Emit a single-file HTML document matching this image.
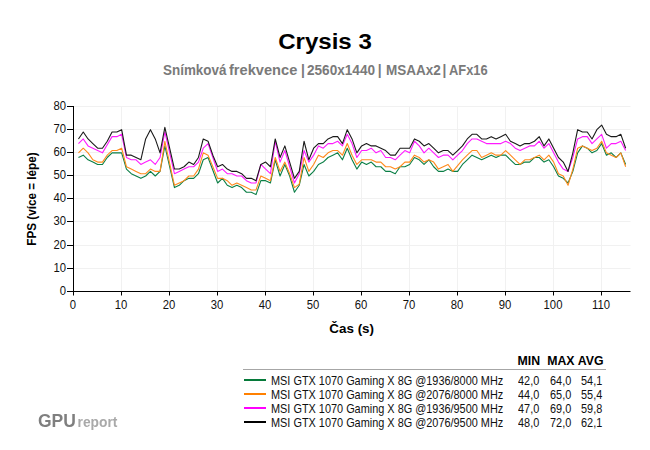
<!DOCTYPE html>
<html><head><meta charset="utf-8"><title>Crysis 3</title>
<style>
html,body{margin:0;padding:0;background:#fff;}
body{width:650px;height:450px;position:relative;overflow:hidden;font-family:"Liberation Sans",sans-serif;color:#000;}
.t{position:absolute;white-space:nowrap;line-height:1;}
.c{transform:translateX(-50%);}
.r{transform:translateX(-100%);}
.tick{font-size:12px;color:#111;}
.r.tick{transform:translateX(-100%) scaleX(.94);transform-origin:100% 50%;}
.c.tick{transform:translateX(-50%) scaleX(.94);transform-origin:50% 50%;}
.lg{font-size:13.6px;color:#111;transform:scaleX(.802);transform-origin:0 50%;}
.hd{font-size:12.3px;font-weight:bold;}
</style></head><body>
<svg width="650" height="450" viewBox="0 0 650 450" style="position:absolute;left:0;top:0">
<line x1="74" y1="268.5" x2="630.5" y2="268.5" stroke="#f1f1f1" stroke-width="1"/>
<line x1="74" y1="245.5" x2="630.5" y2="245.5" stroke="#f1f1f1" stroke-width="1"/>
<line x1="74" y1="221.5" x2="630.5" y2="221.5" stroke="#f1f1f1" stroke-width="1"/>
<line x1="74" y1="198.5" x2="630.5" y2="198.5" stroke="#f1f1f1" stroke-width="1"/>
<line x1="74" y1="175.5" x2="630.5" y2="175.5" stroke="#f1f1f1" stroke-width="1"/>
<line x1="74" y1="152.5" x2="630.5" y2="152.5" stroke="#f1f1f1" stroke-width="1"/>
<line x1="74" y1="129.5" x2="630.5" y2="129.5" stroke="#f1f1f1" stroke-width="1"/>
<line x1="74" y1="106.5" x2="630.5" y2="106.5" stroke="#f1f1f1" stroke-width="1"/>
<line x1="121.5" y1="106" x2="121.5" y2="291" stroke="#f1f1f1" stroke-width="1"/>
<line x1="169.5" y1="106" x2="169.5" y2="291" stroke="#f1f1f1" stroke-width="1"/>
<line x1="217.5" y1="106" x2="217.5" y2="291" stroke="#f1f1f1" stroke-width="1"/>
<line x1="265.5" y1="106" x2="265.5" y2="291" stroke="#f1f1f1" stroke-width="1"/>
<line x1="313.5" y1="106" x2="313.5" y2="291" stroke="#f1f1f1" stroke-width="1"/>
<line x1="361.5" y1="106" x2="361.5" y2="291" stroke="#f1f1f1" stroke-width="1"/>
<line x1="409.5" y1="106" x2="409.5" y2="291" stroke="#f1f1f1" stroke-width="1"/>
<line x1="457.5" y1="106" x2="457.5" y2="291" stroke="#f1f1f1" stroke-width="1"/>
<line x1="505.5" y1="106" x2="505.5" y2="291" stroke="#f1f1f1" stroke-width="1"/>
<line x1="553.5" y1="106" x2="553.5" y2="291" stroke="#f1f1f1" stroke-width="1"/>
<line x1="601.5" y1="106" x2="601.5" y2="291" stroke="#f1f1f1" stroke-width="1"/>
<path d="M78.45,157.48 L83.25,155.17 L88.05,159.80 L92.85,162.12 L97.65,164.44 L102.45,164.44 L107.25,157.48 L112.05,152.85 L116.85,152.85 L121.65,152.85 L126.45,169.07 L131.25,173.71 L136.05,176.02 L140.85,178.34 L145.65,176.02 L150.45,171.39 L155.25,176.02 L160.05,171.39 L164.85,145.90 L169.65,166.75 L174.45,187.61 L179.25,185.29 L184.05,180.66 L188.85,178.34 L193.65,178.34 L198.45,173.71 L203.25,159.80 L208.05,157.48 L212.85,170.23 L217.65,182.98 L222.45,178.34 L227.25,185.29 L232.05,187.61 L236.85,185.29 L241.65,187.61 L246.45,192.25 L251.25,192.25 L256.05,194.56 L260.85,180.66 L265.65,180.66 L270.45,182.98 L275.25,159.80 L280.05,176.02 L284.85,164.44 L289.65,176.02 L294.45,192.25 L299.25,185.29 L304.05,164.44 L308.85,176.02 L313.65,171.39 L318.45,164.44 L323.25,162.12 L328.05,157.48 L332.85,155.17 L337.65,152.85 L342.45,159.80 L347.25,148.21 L352.05,159.80 L356.85,169.07 L361.65,162.12 L366.45,164.44 L371.25,162.12 L376.05,166.75 L380.85,166.75 L385.65,171.39 L390.45,171.39 L395.25,173.71 L400.05,166.75 L404.85,166.75 L409.65,164.44 L414.45,157.48 L419.25,159.80 L424.05,164.44 L428.85,159.80 L433.65,166.75 L438.45,171.39 L443.25,171.39 L448.05,169.07 L452.85,171.39 L457.65,171.39 L462.45,164.44 L467.25,159.80 L472.05,155.17 L476.85,157.48 L481.65,159.80 L486.45,157.48 L491.25,155.17 L496.05,157.48 L500.85,155.17 L505.65,155.17 L510.45,159.80 L515.25,164.44 L520.05,164.44 L524.85,162.12 L529.65,162.12 L534.45,157.48 L539.25,157.48 L544.05,162.12 L548.85,159.80 L553.65,166.75 L558.45,176.02 L563.25,178.34 L568.05,182.98 L572.85,171.39 L577.65,152.85 L582.45,145.90 L587.25,148.21 L592.05,152.85 L596.85,150.53 L601.65,143.58 L606.45,155.17 L611.25,152.85 L616.05,157.48 L620.85,152.85 L625.65,164.44" fill="none" stroke="#0b7f46" stroke-width="1.1" stroke-linejoin="round"/>
<path d="M78.45,152.85 L83.25,148.21 L88.05,152.85 L92.85,159.80 L97.65,162.12 L102.45,162.12 L107.25,155.17 L112.05,150.53 L116.85,150.53 L121.65,148.21 L126.45,166.75 L131.25,169.07 L136.05,171.39 L140.85,173.71 L145.65,173.71 L150.45,169.07 L155.25,171.39 L160.05,171.39 L164.85,141.26 L169.65,163.28 L174.45,185.29 L179.25,182.98 L184.05,180.66 L188.85,176.02 L193.65,176.02 L198.45,169.07 L203.25,152.85 L208.05,155.17 L212.85,166.75 L217.65,178.34 L222.45,178.34 L227.25,180.66 L232.05,185.29 L236.85,182.98 L241.65,185.29 L246.45,187.61 L251.25,189.93 L256.05,189.93 L260.85,176.02 L265.65,178.34 L270.45,180.66 L275.25,157.48 L280.05,171.39 L284.85,162.12 L289.65,173.71 L294.45,187.61 L299.25,184.14 L304.05,157.48 L308.85,171.39 L313.65,164.44 L318.45,155.17 L323.25,157.48 L328.05,152.85 L332.85,150.53 L337.65,150.53 L342.45,155.17 L347.25,143.58 L352.05,155.17 L356.85,164.44 L361.65,159.80 L366.45,159.80 L371.25,159.80 L376.05,162.12 L380.85,162.12 L385.65,166.75 L390.45,166.75 L395.25,169.07 L400.05,166.75 L404.85,162.12 L409.65,162.12 L414.45,155.17 L419.25,157.48 L424.05,162.12 L428.85,159.80 L433.65,162.12 L438.45,169.07 L443.25,166.75 L448.05,164.44 L452.85,171.39 L457.65,165.60 L462.45,159.80 L467.25,155.17 L472.05,150.53 L476.85,150.53 L481.65,157.48 L486.45,155.17 L491.25,152.85 L496.05,155.17 L500.85,155.17 L505.65,150.53 L510.45,155.17 L515.25,159.80 L520.05,164.44 L524.85,159.80 L529.65,159.80 L534.45,157.48 L539.25,155.17 L544.05,159.80 L548.85,155.17 L553.65,162.12 L558.45,173.71 L563.25,176.02 L568.05,185.29 L572.85,169.07 L577.65,148.21 L582.45,145.90 L587.25,148.21 L592.05,150.53 L596.85,148.21 L601.65,141.26 L606.45,152.85 L611.25,155.17 L616.05,157.48 L620.85,152.85 L625.65,166.75" fill="none" stroke="#ff8a1c" stroke-width="1.1" stroke-linejoin="round"/>
<path d="M78.45,143.58 L83.25,138.94 L88.05,145.90 L92.85,148.21 L97.65,150.53 L102.45,152.85 L107.25,144.74 L112.05,136.63 L116.85,136.63 L121.65,134.31 L126.45,157.48 L131.25,159.80 L136.05,159.80 L140.85,164.44 L145.65,162.12 L150.45,159.80 L155.25,164.44 L160.05,157.48 L164.85,131.99 L169.65,152.85 L174.45,173.71 L179.25,171.39 L184.05,169.07 L188.85,166.75 L193.65,166.75 L198.45,162.12 L203.25,148.21 L208.05,143.58 L212.85,157.48 L217.65,171.39 L222.45,169.07 L227.25,173.71 L232.05,173.71 L236.85,176.02 L241.65,176.02 L246.45,180.66 L251.25,182.98 L256.05,182.98 L260.85,164.44 L265.65,169.07 L270.45,173.71 L275.25,141.26 L280.05,162.12 L284.85,150.53 L289.65,166.75 L294.45,182.98 L299.25,173.71 L304.05,150.53 L308.85,162.12 L313.65,155.17 L318.45,145.90 L323.25,148.21 L328.05,143.58 L332.85,143.58 L337.65,141.26 L342.45,145.90 L347.25,134.31 L352.05,143.58 L356.85,157.48 L361.65,150.53 L366.45,150.53 L371.25,148.21 L376.05,152.85 L380.85,150.53 L385.65,157.48 L390.45,157.48 L395.25,159.80 L400.05,155.17 L404.85,150.53 L409.65,152.85 L414.45,141.26 L419.25,145.90 L424.05,152.85 L428.85,148.21 L433.65,152.85 L438.45,157.48 L443.25,155.17 L448.05,155.17 L452.85,159.80 L457.65,155.17 L462.45,150.53 L467.25,143.58 L472.05,138.94 L476.85,138.94 L481.65,141.26 L486.45,143.58 L491.25,143.58 L496.05,143.58 L500.85,143.58 L505.65,141.26 L510.45,143.58 L515.25,148.21 L520.05,150.53 L524.85,148.21 L529.65,145.90 L534.45,145.90 L539.25,141.26 L544.05,148.21 L548.85,143.58 L553.65,152.85 L558.45,162.12 L563.25,169.07 L568.05,171.39 L572.85,157.48 L577.65,138.94 L582.45,136.63 L587.25,136.63 L592.05,143.58 L596.85,138.94 L601.65,134.31 L606.45,148.21 L611.25,143.58 L616.05,143.58 L620.85,141.26 L625.65,150.53" fill="none" stroke="#ff1aff" stroke-width="1.1" stroke-linejoin="round"/>
<path d="M78.45,138.94 L83.25,131.99 L88.05,138.94 L92.85,143.58 L97.65,148.21 L102.45,148.21 L107.25,141.26 L112.05,131.99 L116.85,131.99 L121.65,129.67 L126.45,155.17 L131.25,155.17 L136.05,157.48 L140.85,159.80 L145.65,138.94 L150.45,129.67 L155.25,138.94 L160.05,152.85 L164.85,127.36 L169.65,148.21 L174.45,169.07 L179.25,169.07 L184.05,166.75 L188.85,162.12 L193.65,164.44 L198.45,157.48 L203.25,138.94 L208.05,141.26 L212.85,155.17 L217.65,166.75 L222.45,164.44 L227.25,169.07 L232.05,171.39 L236.85,171.39 L241.65,173.71 L246.45,178.34 L251.25,178.34 L256.05,180.66 L260.85,164.44 L265.65,162.12 L270.45,166.75 L275.25,138.94 L280.05,157.48 L284.85,145.90 L289.65,162.12 L294.45,178.34 L299.25,171.39 L304.05,141.26 L308.85,159.80 L313.65,148.21 L318.45,143.58 L323.25,143.58 L328.05,138.94 L332.85,136.63 L337.65,136.63 L342.45,143.58 L347.25,129.67 L352.05,138.94 L356.85,152.85 L361.65,145.90 L366.45,143.58 L371.25,145.90 L376.05,145.90 L380.85,148.21 L385.65,150.53 L390.45,155.17 L395.25,155.17 L400.05,148.21 L404.85,148.21 L409.65,148.21 L414.45,138.94 L419.25,141.26 L424.05,145.90 L428.85,143.58 L433.65,148.21 L438.45,152.85 L443.25,150.53 L448.05,150.53 L452.85,155.17 L457.65,150.53 L462.45,145.90 L467.25,138.94 L472.05,134.31 L476.85,134.31 L481.65,138.94 L486.45,138.94 L491.25,136.63 L496.05,138.94 L500.85,136.63 L505.65,134.31 L510.45,141.26 L515.25,143.58 L520.05,145.90 L524.85,143.58 L529.65,143.58 L534.45,141.26 L539.25,136.63 L544.05,145.90 L548.85,138.94 L553.65,148.21 L558.45,157.48 L563.25,162.12 L568.05,171.39 L572.85,152.85 L577.65,129.67 L582.45,131.99 L587.25,131.99 L592.05,138.94 L596.85,129.67 L601.65,125.04 L606.45,134.31 L611.25,136.63 L616.05,136.63 L620.85,134.31 L625.65,148.21" fill="none" stroke="#1a1a1a" stroke-width="1.1" stroke-linejoin="round"/>
<line x1="73.5" y1="106" x2="73.5" y2="292" stroke="#000" stroke-width="1"/>
<line x1="73" y1="291.5" x2="630.5" y2="291.5" stroke="#000" stroke-width="1"/>
<line x1="67" y1="291.5" x2="73.5" y2="291.5" stroke="#000" stroke-width="1"/>
<line x1="67" y1="268.5" x2="73.5" y2="268.5" stroke="#000" stroke-width="1"/>
<line x1="67" y1="245.5" x2="73.5" y2="245.5" stroke="#000" stroke-width="1"/>
<line x1="67" y1="221.5" x2="73.5" y2="221.5" stroke="#000" stroke-width="1"/>
<line x1="67" y1="198.5" x2="73.5" y2="198.5" stroke="#000" stroke-width="1"/>
<line x1="67" y1="175.5" x2="73.5" y2="175.5" stroke="#000" stroke-width="1"/>
<line x1="67" y1="152.5" x2="73.5" y2="152.5" stroke="#000" stroke-width="1"/>
<line x1="67" y1="129.5" x2="73.5" y2="129.5" stroke="#000" stroke-width="1"/>
<line x1="67" y1="106.5" x2="73.5" y2="106.5" stroke="#000" stroke-width="1"/>
<line x1="73.5" y1="291.5" x2="73.5" y2="295.5" stroke="#000" stroke-width="1"/>
<line x1="121.5" y1="291.5" x2="121.5" y2="295.5" stroke="#000" stroke-width="1"/>
<line x1="169.5" y1="291.5" x2="169.5" y2="295.5" stroke="#000" stroke-width="1"/>
<line x1="217.5" y1="291.5" x2="217.5" y2="295.5" stroke="#000" stroke-width="1"/>
<line x1="265.5" y1="291.5" x2="265.5" y2="295.5" stroke="#000" stroke-width="1"/>
<line x1="313.5" y1="291.5" x2="313.5" y2="295.5" stroke="#000" stroke-width="1"/>
<line x1="361.5" y1="291.5" x2="361.5" y2="295.5" stroke="#000" stroke-width="1"/>
<line x1="409.5" y1="291.5" x2="409.5" y2="295.5" stroke="#000" stroke-width="1"/>
<line x1="457.5" y1="291.5" x2="457.5" y2="295.5" stroke="#000" stroke-width="1"/>
<line x1="505.5" y1="291.5" x2="505.5" y2="295.5" stroke="#000" stroke-width="1"/>
<line x1="553.5" y1="291.5" x2="553.5" y2="295.5" stroke="#000" stroke-width="1"/>
<line x1="601.5" y1="291.5" x2="601.5" y2="295.5" stroke="#000" stroke-width="1"/>
<line x1="243" y1="369.5" x2="606" y2="369.5" stroke="#a6a6a6" stroke-width="1"/>
<line x1="244" y1="380.0" x2="266" y2="380.0" stroke="#067a3a" stroke-width="2"/>
<line x1="244" y1="394.0" x2="266" y2="394.0" stroke="#ff8000" stroke-width="2"/>
<line x1="244" y1="408.0" x2="266" y2="408.0" stroke="#ff00ff" stroke-width="2"/>
<line x1="244" y1="422.0" x2="266" y2="422.0" stroke="#000000" stroke-width="2"/>
</svg>
<div class="t" style="left:325.3px;top:31px;font-size:22.6px;font-weight:bold;transform:translateX(-50%) scaleX(1.065);">Crysis 3</div>
<div class="t" style="left:163.42px;top:63.8px;font-size:13.8px;font-weight:bold;color:#7a7a7a;transform:scaleX(0.974);transform-origin:0 50%;">Snímková</div>
<div class="t" style="left:229.43px;top:63.8px;font-size:13.8px;font-weight:bold;color:#7a7a7a;transform:scaleX(1.06);transform-origin:0 50%;">frekvence</div>
<div class="t" style="left:301.09px;top:63.8px;font-size:13.8px;font-weight:bold;color:#7a7a7a;transform:scaleX(1);transform-origin:0 50%;">|</div>
<div class="t" style="left:307.39px;top:63.8px;font-size:13.8px;font-weight:bold;color:#7a7a7a;transform:scaleX(0.985);transform-origin:0 50%;">2560x1440</div>
<div class="t" style="left:377.87px;top:63.8px;font-size:13.8px;font-weight:bold;color:#7a7a7a;transform:scaleX(1);transform-origin:0 50%;">|</div>
<div class="t" style="left:385.67px;top:63.8px;font-size:13.8px;font-weight:bold;color:#7a7a7a;transform:scaleX(0.98);transform-origin:0 50%;">MSAAx2</div>
<div class="t" style="left:442.58px;top:63.8px;font-size:13.8px;font-weight:bold;color:#7a7a7a;transform:scaleX(1);transform-origin:0 50%;">|</div>
<div class="t" style="left:448.86px;top:63.8px;font-size:13.8px;font-weight:bold;color:#7a7a7a;transform:scaleX(0.935);transform-origin:0 50%;">AFx16</div>
<div class="t r tick" style="left:66px;top:285.4px;">0</div>
<div class="t r tick" style="left:66px;top:262.4px;">10</div>
<div class="t r tick" style="left:66px;top:239.4px;">20</div>
<div class="t r tick" style="left:66px;top:215.4px;">30</div>
<div class="t r tick" style="left:66px;top:192.4px;">40</div>
<div class="t r tick" style="left:66px;top:169.4px;">50</div>
<div class="t r tick" style="left:66px;top:146.4px;">60</div>
<div class="t r tick" style="left:66px;top:123.4px;">70</div>
<div class="t r tick" style="left:66px;top:100.4px;">80</div>
<div class="t c tick" style="left:73.4px;top:299px;">0</div>
<div class="t c tick" style="left:121.4px;top:299px;">10</div>
<div class="t c tick" style="left:169.4px;top:299px;">20</div>
<div class="t c tick" style="left:217.4px;top:299px;">30</div>
<div class="t c tick" style="left:265.4px;top:299px;">40</div>
<div class="t c tick" style="left:313.4px;top:299px;">50</div>
<div class="t c tick" style="left:361.4px;top:299px;">60</div>
<div class="t c tick" style="left:409.4px;top:299px;">70</div>
<div class="t c tick" style="left:457.4px;top:299px;">80</div>
<div class="t c tick" style="left:505.4px;top:299px;">90</div>
<div class="t c tick" style="left:553.4px;top:299px;">100</div>
<div class="t c tick" style="left:601.4px;top:299px;">110</div>
<div class="t c" style="left:351.7px;top:321.7px;font-size:13.4px;font-weight:bold;">Čas (s)</div>
<div class="t" style="left:32.2px;top:198.6px;font-size:12px;font-weight:bold;transform:translate(-50%,-50%) rotate(-90deg) scaleX(.975);">FPS (více = lépe)</div>
<div class="t hd" style="left:517.6px;top:354.6px;">MIN</div>
<div class="t hd" style="left:547.2px;top:354.6px;">MAX</div>
<div class="t hd" style="left:577.8px;top:354.6px;">AVG</div>
<div class="t lg" style="left:271.3px;top:373.9px;">MSI GTX 1070 Gaming X 8G @1936/8000 MHz</div>
<div class="t lg" style="left:517.6px;top:373.9px;">42,0</div>
<div class="t lg" style="left:549.7px;top:373.9px;">64,0</div>
<div class="t lg" style="left:581px;top:373.9px;">54,1</div>
<div class="t lg" style="left:271.3px;top:387.9px;">MSI GTX 1070 Gaming X 8G @2076/8000 MHz</div>
<div class="t lg" style="left:517.6px;top:387.9px;">44,0</div>
<div class="t lg" style="left:549.7px;top:387.9px;">65,0</div>
<div class="t lg" style="left:581px;top:387.9px;">55,4</div>
<div class="t lg" style="left:271.3px;top:401.8px;">MSI GTX 1070 Gaming X 8G @1936/9500 MHz</div>
<div class="t lg" style="left:517.6px;top:401.8px;">47,0</div>
<div class="t lg" style="left:549.7px;top:401.8px;">69,0</div>
<div class="t lg" style="left:581px;top:401.8px;">59,8</div>
<div class="t lg" style="left:271.3px;top:415.8px;">MSI GTX 1070 Gaming X 8G @2076/9500 MHz</div>
<div class="t lg" style="left:517.6px;top:415.8px;">48,0</div>
<div class="t lg" style="left:549.7px;top:415.8px;">72,0</div>
<div class="t lg" style="left:581px;top:415.8px;">62,1</div>
<div class="t" style="left:38px;top:412.8px;font-size:17.5px;font-weight:bold;color:#7f7f7f;will-change:transform;">GPU<span style="font-size:13.8px;color:#a9a9a9;margin-left:1.6px;">report</span></div>
</body></html>
